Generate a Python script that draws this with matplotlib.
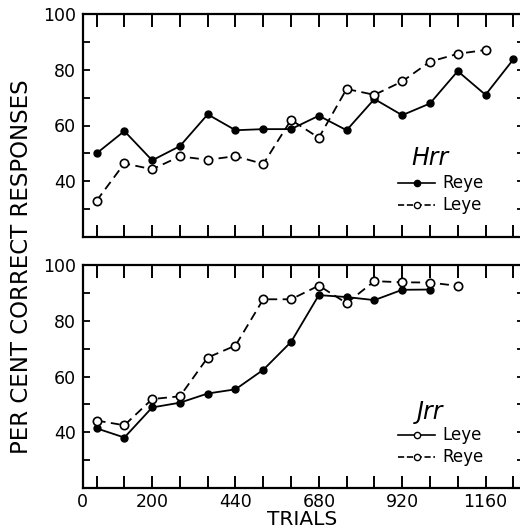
import matplotlib
matplotlib.use("Agg")
import matplotlib.pyplot as plt
from matplotlib.ticker import MultipleLocator, FixedLocator
from matplotlib.lines import Line2D

# Data: trial block midpoints and percent correct
trials_h_reye = [40, 120, 200, 280, 360, 440, 520, 600, 680, 760, 840, 920, 1000, 1080, 1160, 1240]
hrr_reye = [50, 58, 47.5, 52.6, 64, 58.3, 58.7, 58.7, 63.5, 58.3, 69.5, 63.7, 67.9, 79.5, 71, 83.7]
trials_h_leye = [40, 120, 200, 280, 360, 440, 520, 600, 680, 760, 840, 920, 1000, 1080, 1160]
hrr_leye = [33, 46.4, 44.3, 48.9, 47.7, 49, 46.2, 62, 55.6, 73.1, 71, 75.8, 82.9, 85.7, 87.1]

trials_j_leye = [40, 120, 200, 280, 360, 440, 520, 600, 680, 760, 840, 920, 1000]
jrr_leye = [41.4, 38.1, 48.9, 50.6, 53.9, 55.4, 62.4, 72.4, 89.2, 88.5, 87.4, 91.1, 91.2]
trials_j_reye = [40, 120, 200, 280, 360, 440, 520, 600, 680, 760, 840, 920, 1000, 1080]
jrr_reye = [44.2, 42.5, 51.9, 52.9, 66.8, 71.1, 87.7, 87.7, 92.6, 86.3, 94.2, 93.8, 93.7, 92.5]

xtick_labels = [0, 200, 440, 680, 920, 1160]
ytick_labels = [40, 60, 80, 100]

W, H = 520, 529
fig = plt.figure(figsize=(W / 100, H / 100), dpi=100)
plt.rcParams['font.family'] = ['DejaVu Sans']

left_px = 82.7
xmax = 1270
px_per_unit = 27.78 / 80
right_px = left_px + xmax * px_per_unit

def make_ax(top_px, bot_px):
    ax = fig.add_axes([left_px / W, 1 - bot_px / H, (right_px - left_px) / W, (bot_px - top_px) / H])
    ax.set_xlim(0, xmax)
    ax.set_ylim(20, 100)
    for s in ax.spines.values():
        s.set_linewidth(1.6)
        s.set_color('black')
    ax.xaxis.set_major_locator(FixedLocator(list(range(40, 1250, 80))))
    ax.yaxis.set_major_locator(FixedLocator(ytick_labels))
    ax.yaxis.set_minor_locator(MultipleLocator(10))
    ax.tick_params(axis='x', which='major', direction='in', top=True, bottom=True,
                   length=9, width=1.4, labelbottom=False)
    ax.tick_params(axis='y', which='both', direction='in', left=True, right=True,
                   length=5, width=1.3, labelsize=12.5, pad=5)
    return ax

ax1 = make_ax(14, 237)
ax2 = make_ax(265, 488)

lw = 1.3
# Top panel: Hrr
ax1.plot(trials_h_reye, hrr_reye, '-', color='black', lw=lw, marker='o', ms=5,
         mfc='black', mec='black', label='Reye')
ax1.plot(trials_h_leye, hrr_leye, '--', color='black', lw=lw, marker='o', ms=6,
         mfc='white', mec='black', mew=1.2, dashes=(5, 3), label='Leye')
ax1.set_yticklabels([str(v) for v in ytick_labels])

# Bottom panel: Jrr
ax2.plot(trials_j_leye, jrr_leye, '-', color='black', lw=lw, marker='o', ms=5,
         mfc='black', mec='black', label='Leye')
ax2.plot(trials_j_reye, jrr_reye, '--', color='black', lw=lw, marker='o', ms=6,
         mfc='white', mec='black', mew=1.2, dashes=(5, 3), label='Reye')
ax2.set_yticklabels([str(v) for v in ytick_labels])

# bottom x labels
xlab_base = 1 - 507 / H
for v in xtick_labels:
    ax2.text(v, xlab_base, str(v), transform=ax2.get_xaxis_transform() + 0 * 0 if False else
             matplotlib.transforms.blended_transform_factory(ax2.transData, fig.transFigure),
             ha='center', va='baseline', fontsize=12.5)

fig.text(302 / W, 1 - 525 / H, 'TRIALS', ha='center', va='baseline', fontsize=14.5)
fig.text(22 / W, 1 - 267 / H, 'PER CENT CORRECT RESPONSES', rotation=90, ha='center',
         va='center', fontsize=16.5)

# Legends
def legend(title, title_y, entries, y0):
    fig.text(430 / W, 1 - title_y / H, title, ha='center', va='center',
             fontsize=17, style='italic')
    for i, (label, ls, mfc) in enumerate(entries):
        y = 1 - (y0 + i * 21.5) / H
        fig.add_artist(Line2D([398 / W, 435 / W], [y, y], transform=fig.transFigure, color='black',
                              lw=1.2, linestyle=ls))
        fig.add_artist(Line2D([416.5 / W], [y], transform=fig.transFigure, marker='o', ms=4.5,
                              mfc=mfc, mec='black', mew=1.0, lw=0))
        fig.text(442 / W, y, label, ha='left', va='center', fontsize=12)

legend('Hrr', 158, [('Reye', '-', 'black'), ('Leye', '--', 'white')], 183)
legend('Jrr', 412, [('Leye', '-', 'white'), ('Reye', '--', 'white')], 435)

fig.savefig('out.png', dpi=100)
